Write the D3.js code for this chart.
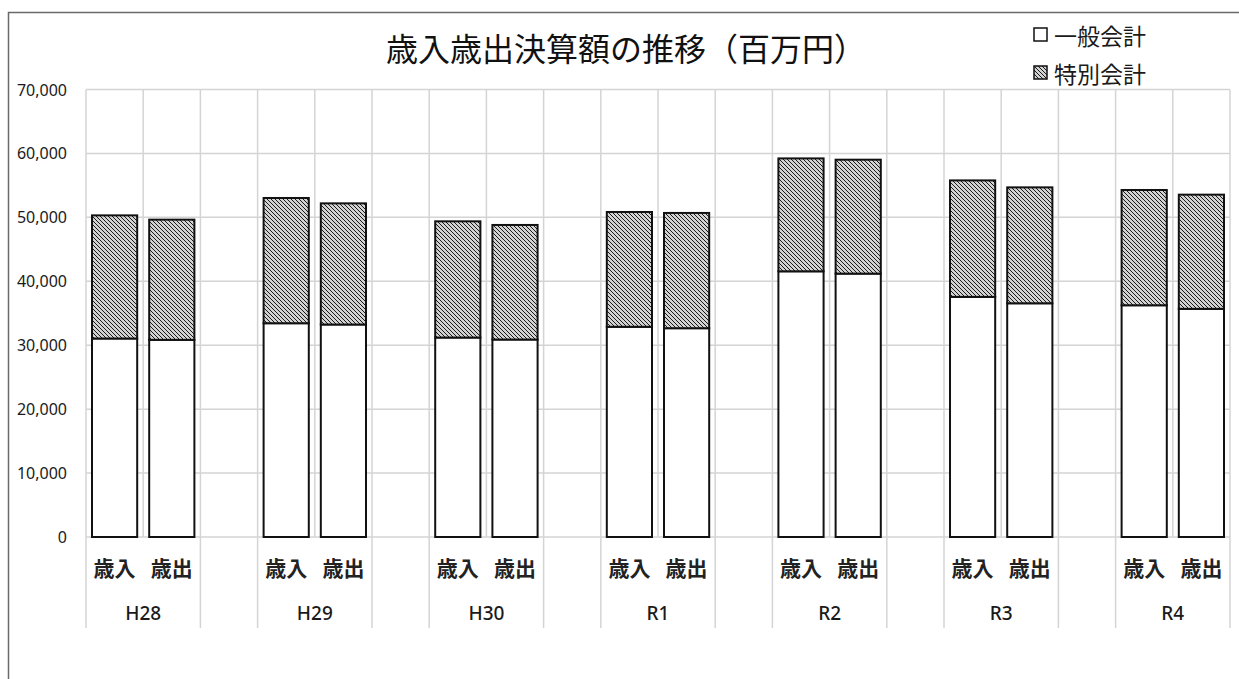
<!DOCTYPE html>
<html lang="ja">
<head>
<meta charset="utf-8">
<script src="https://cdn.jsdelivr.net/npm/d3@7"></script>
<style>
  html, body { margin: 0; padding: 0; background: #fff; }
  svg { display: block; }
</style>
</head>
<body>
<svg id="chart" width="1239" height="679"></svg>
<script>
// 年度（決算）
const years = ["H28", "H29", "H30", "R1", "R2", "R3", "R4"];
const kinds = ["歳入", "歳出"];

// 一般会計（百万円）
const generalRevenue     = [31050, 33440, 31200, 32880, 41560, 37560, 36250];
const generalExpenditure = [30840, 33240, 30890, 32660, 41200, 36560, 35690];
// 特別会計（百万円）
const specialRevenue     = [19260, 19590, 18180, 17960, 17660, 18220, 18030];
const specialExpenditure = [18800, 18950, 17920, 18030, 17820, 18130, 17860];

const yTicks = [0, 10000, 20000, 30000, 40000, 50000, 60000, 70000];
const legendLabels = ["一般会計", "特別会計"];
const titleText = "歳入歳出決算額の推移（百万円）";

// 棒のデータ（年度ごとに歳入・歳出、年度の間は空き枠）
const rows = [];
const slots = [];
years.forEach((yr, i) => {
  const g = [generalRevenue[i], generalExpenditure[i]];
  const s = [specialRevenue[i], specialExpenditure[i]];
  kinds.forEach((k, j) => {
    const key = yr + "|" + k;
    slots.push(key);
    rows.push({ key, year: yr, kind: k, general: g[j], special: s[j] });
  });
  if (i < years.length - 1) slots.push("gap" + i);
});

const svg = d3.select("#chart");
const W = 1239, H = 679;
const plot = { left: 86, right: 1230, top: 89.5, bottom: 537 };

const x = d3.scaleBand().domain(slots).range([plot.left, plot.right]).padding(0);
const y = d3.scaleLinear().domain([0, 70000]).range([plot.bottom, plot.top]);
const bw = x.bandwidth();
const barW = bw * 0.79;

// 斜線パターン
const defs = svg.append("defs");
const pat = defs.append("pattern")
  .attr("id", "hatch").attr("width", 4).attr("height", 4)
  .attr("patternUnits", "userSpaceOnUse");
pat.append("rect").attr("width", 4).attr("height", 4).attr("fill", "#d2d2d2");
pat.append("path")
  .attr("d", "M-1,-1 L5,5 M-1,3 L1,5 M3,-1 L5,1")
  .attr("stroke", "#1a1a1a").attr("stroke-width", 1);

svg.append("rect").attr("width", W).attr("height", H).attr("fill", "#fff");

// 外枠
svg.append("path")
  .attr("d", `M8.5,${H} L8.5,12.5 L${W},12.5`)
  .attr("fill", "none").attr("stroke", "#6a6a6a").attr("stroke-width", 1.5);

// 目盛線（横）
svg.append("g").selectAll("line").data(yTicks).join("line")
  .attr("x1", plot.left).attr("x2", plot.right)
  .attr("y1", d => y(d)).attr("y2", d => y(d))
  .attr("stroke", "#d4d4d4").attr("stroke-width", 1.5);

// 目盛線（縦）: 各枠の境界
const bounds = slots.map(s => x(s)).concat([x(slots[slots.length - 1]) + bw]);
svg.append("g").selectAll("line").data(bounds).join("line")
  .attr("x1", d => d).attr("x2", d => d)
  .attr("y1", plot.top).attr("y2", plot.bottom)
  .attr("stroke", "#d4d4d4").attr("stroke-width", 1.5);

// 項目軸の区切り線（年度・空き枠の境界）
const groupBounds = [];
years.forEach((yr, i) => {
  groupBounds.push(x(yr + "|歳入"));
  groupBounds.push(x(yr + "|歳出") + bw);
});
svg.append("g").selectAll("line").data(groupBounds).join("line")
  .attr("x1", d => d).attr("x2", d => d)
  .attr("y1", plot.bottom).attr("y2", 628)
  .attr("stroke", "#d4d4d4").attr("stroke-width", 1.5);

// Y軸ラベル
const fmt = d3.format(",");
svg.append("g").selectAll("text").data(yTicks).join("text")
  .attr("x", 67).attr("y", d => y(d))
  .attr("text-anchor", "end").attr("dominant-baseline", "central")
  .attr("font-family", "'Noto Sans', sans-serif").attr("font-size", 16)
  .attr("fill", "#1a1a1a")
  .text(d => fmt(d));

// 棒（一般会計＋特別会計の積み上げ）
const bars = svg.append("g");
bars.selectAll("rect.general").data(rows).join("rect")
  .attr("class", "general")
  .attr("x", d => x(d.key) + (bw - barW) / 2)
  .attr("width", barW)
  .attr("y", d => y(d.general))
  .attr("height", d => y(0) - y(d.general))
  .attr("fill", "#fff").attr("stroke", "#111").attr("stroke-width", 2);
bars.selectAll("rect.special").data(rows).join("rect")
  .attr("class", "special")
  .attr("x", d => x(d.key) + (bw - barW) / 2)
  .attr("width", barW)
  .attr("y", d => y(d.general + d.special))
  .attr("height", d => y(d.general) - y(d.general + d.special))
  .attr("fill", "url(#hatch)").attr("stroke", "#111").attr("stroke-width", 2);

// 項目ラベル（歳入・歳出）
svg.append("g").selectAll("text").data(rows).join("text")
  .attr("x", d => x(d.key) + bw / 2).attr("y", 567)
  .attr("text-anchor", "middle").attr("dominant-baseline", "central")
  .attr("font-family", "'Noto Sans CJK JP', sans-serif")
  .attr("font-weight", 700).attr("font-size", 21).attr("fill", "#222")
  .text(d => d.kind);

// 年度ラベル
svg.append("g").selectAll("text").data(years).join("text")
  .attr("x", d => x(d + "|歳出"))
  .attr("y", 613)
  .attr("text-anchor", "middle").attr("dominant-baseline", "central")
  .attr("font-family", "'Noto Sans', sans-serif").attr("font-size", 19)
  .attr("font-weight", 500)
  .attr("fill", "#1a1a1a")
  .text(d => d);

// タイトル
svg.append("text")
  .attr("x", 626).attr("y", 47)
  .attr("text-anchor", "middle").attr("dominant-baseline", "central")
  .attr("font-family", "'Noto Sans CJK JP', sans-serif")
  .attr("font-weight", 400).attr("font-size", 32).attr("fill", "#111")
  .text(titleText);

// 凡例
const legend = svg.append("g");
const legendY = [35, 73];
legendLabels.forEach((lab, i) => {
  legend.append("rect")
    .attr("x", 1034).attr("y", legendY[i] - 7).attr("width", 13).attr("height", 13)
    .attr("fill", i === 0 ? "#fff" : "url(#hatch)")
    .attr("stroke", "#111").attr("stroke-width", 1.5);
  legend.append("text")
    .attr("x", 1054).attr("y", legendY[i])
    .attr("dominant-baseline", "central")
    .attr("font-family", "'Noto Sans CJK JP', sans-serif")
    .attr("font-size", 23).attr("fill", "#1a1a1a")
    .text(lab);
});
</script>
</body>
</html>
